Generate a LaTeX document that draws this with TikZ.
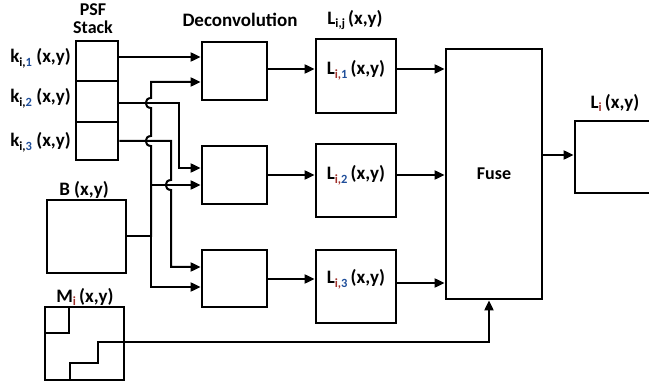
\documentclass[tikz,border=0pt]{standalone}
\usepackage{fontspec}
\setmainfont{Carlito}
\usetikzlibrary{arrows.meta,calc}
\definecolor{subblue}{HTML}{1F4E9A}
\definecolor{subred}{HTML}{A0302A}
\newcommand\subtx[1]{\raisebox{-0.4ex}{\fontsize{12.5}{12.5}\selectfont #1}}
\begin{document}
\begin{tikzpicture}[x=1pt,y=-1pt,
  box/.style={draw,line width=2.8pt,inner sep=0pt},
  lbl/.style={font=\bfseries\fontsize{19}{19}\selectfont,inner sep=0pt},
  conn/.style={line width=2pt},
  arr/.style={conn,-{Triangle[length=10pt,width=9pt]}}]
\useasboundingbox (0,0) rectangle (649,385);

% PSF stack
\node[box,minimum width=42pt,minimum height=40pt] (s1) at (97,61) {};
\node[box,minimum width=42pt,minimum height=41pt] (s2) at (97,101.5) {};
\node[box,minimum width=42pt,minimum height=38pt] (s3) at (97,141) {};
\node[lbl,font=\bfseries\fontsize{18}{18}\selectfont] (psf) at (93,10) {PSF};
\node[lbl,font=\bfseries\fontsize{18}{18}\selectfont] (stk) at (93,27.5) {Stack};
\node[lbl,anchor=east] (k1) at (71,58) {k\subtx{i,\color{subblue}1}\ (x,y)};
\node[lbl,anchor=east] (k2) at (71,98) {k\subtx{i,\color{subblue}2}\ (x,y)};
\node[lbl,anchor=east] (k3) at (71,142) {k\subtx{i,\color{subblue}3}\ (x,y)};

% B and M
\node[box,minimum width=79pt,minimum height=73pt] (B) at (86.5,236.5) {};
\node[lbl] (Bt) at (84,190) {B (x,y)};
\node[box,minimum width=79pt,minimum height=73pt] (M) at (84.5,343.5) {};
\node[lbl] (Mt) at (85,297) {M\subtx{\color{subred}i}\,(x,y)};
\draw[line width=2.8pt] (45,333) -- (69,333) -- (69,307);
\draw[line width=2.8pt] (70,380) -- (70,363) -- (98,363) -- (98,342) -- (124,342);

% Deconvolution boxes
\node[lbl] (dect) at (240,20) {Deconvolution};
\node[box,minimum width=65pt,minimum height=58pt] (D1) at (234.5,71) {};
\node[box,minimum width=65pt,minimum height=58pt] (D2) at (234.5,175) {};
\node[box,minimum width=65pt,minimum height=57pt] (D3) at (234.5,278.5) {};

% L boxes
\node[lbl] (Ljt) at (355,20) {L\subtx{i,j}\,(x,y)};
\node[box,minimum width=80pt,minimum height=74pt] (L1) at (356,76) {};
\node[box,minimum width=80pt,minimum height=73pt] (L2) at (356,180.5) {};
\node[box,minimum width=80pt,minimum height=73pt] (L3) at (356,286.5) {};
\node[lbl] (L1t) at (356,70) {L\subtx{\color{subred}i,\color{subblue}1}\,(x,y)};
\node[lbl] (L2t) at (356,175) {L\subtx{\color{subred}i,\color{subblue}2}\,(x,y)};
\node[lbl] (L3t) at (356,279) {L\subtx{\color{subred}i,\color{subblue}3}\,(x,y)};

% Fuse and output
\node[box,minimum width=96pt,minimum height=250pt,font=\bfseries\fontsize{18}{18}\selectfont] (F) at (494,174) {Fuse};
\node[box,minimum width=80pt,minimum height=72pt] (Li) at (615,157) {};
\node[lbl] (Lit) at (615,103) {L\subtx{\color{subred}i}\,(x,y)};

% input coordinates
\coordinate (d1a) at (D1.west |- 0,57);
\coordinate (d1b) at (D1.west |- 0,82);
\coordinate (d2a) at (D2.west |- 0,168);
\coordinate (d2b) at (D2.west |- 0,185);
\coordinate (d3a) at (D3.west |- 0,267);
\coordinate (d3b) at (D3.west |- 0,287);
\coordinate (fin) at (F.south -| 489,0);

% PSF connectors
\draw[arr] (s1.east |- d1a) -- (d1a);
\draw[arr] (s2.east |- 0,103) -| (179,168) -- (d2a);
\draw[arr] (s3.east |- 0,141) -- (171,141) -- (171,180)
   .. controls (164,180) and (164,190) .. (171,190) -- (171,267) -- (d3a);

% B connectors
\draw[conn] (B.east) -- (B.east -| 151,0);
\draw[arr] (151,237) -- (151,146) .. controls (144,146) and (144,136) .. (151,136)
   -- (151,108) .. controls (144,108) and (144,98) .. (151,98) -- (151,82) -- (d1b);
\draw[arr] (151,185) -- (d2b);
\draw[arr] (151,236) -- (151,287) -- (d3b);

% deconvolution -> L
\draw[arr] (D1.east |- 0,69) -- (L1.west |- 0,69);
\draw[arr] (D2.east |- 0,175) -- (L2.west |- 0,175);
\draw[arr] (D3.east |- 0,279) -- (L3.west |- 0,279);

% L -> Fuse
\draw[arr] (L1.east |- 0,69) -- (F.west |- 0,69);
\draw[arr] (L2.east |- 0,175) -- (F.west |- 0,175);
\draw[arr] (L3.east |- 0,283) -- (F.west |- 0,283);

% M -> Fuse, Fuse -> Li
\draw[arr] (M.east |- 0,342) -| (fin);
\draw[arr] (F.east |- 0,155) -- (Li.west |- 0,155);
\end{tikzpicture}
\end{document}
